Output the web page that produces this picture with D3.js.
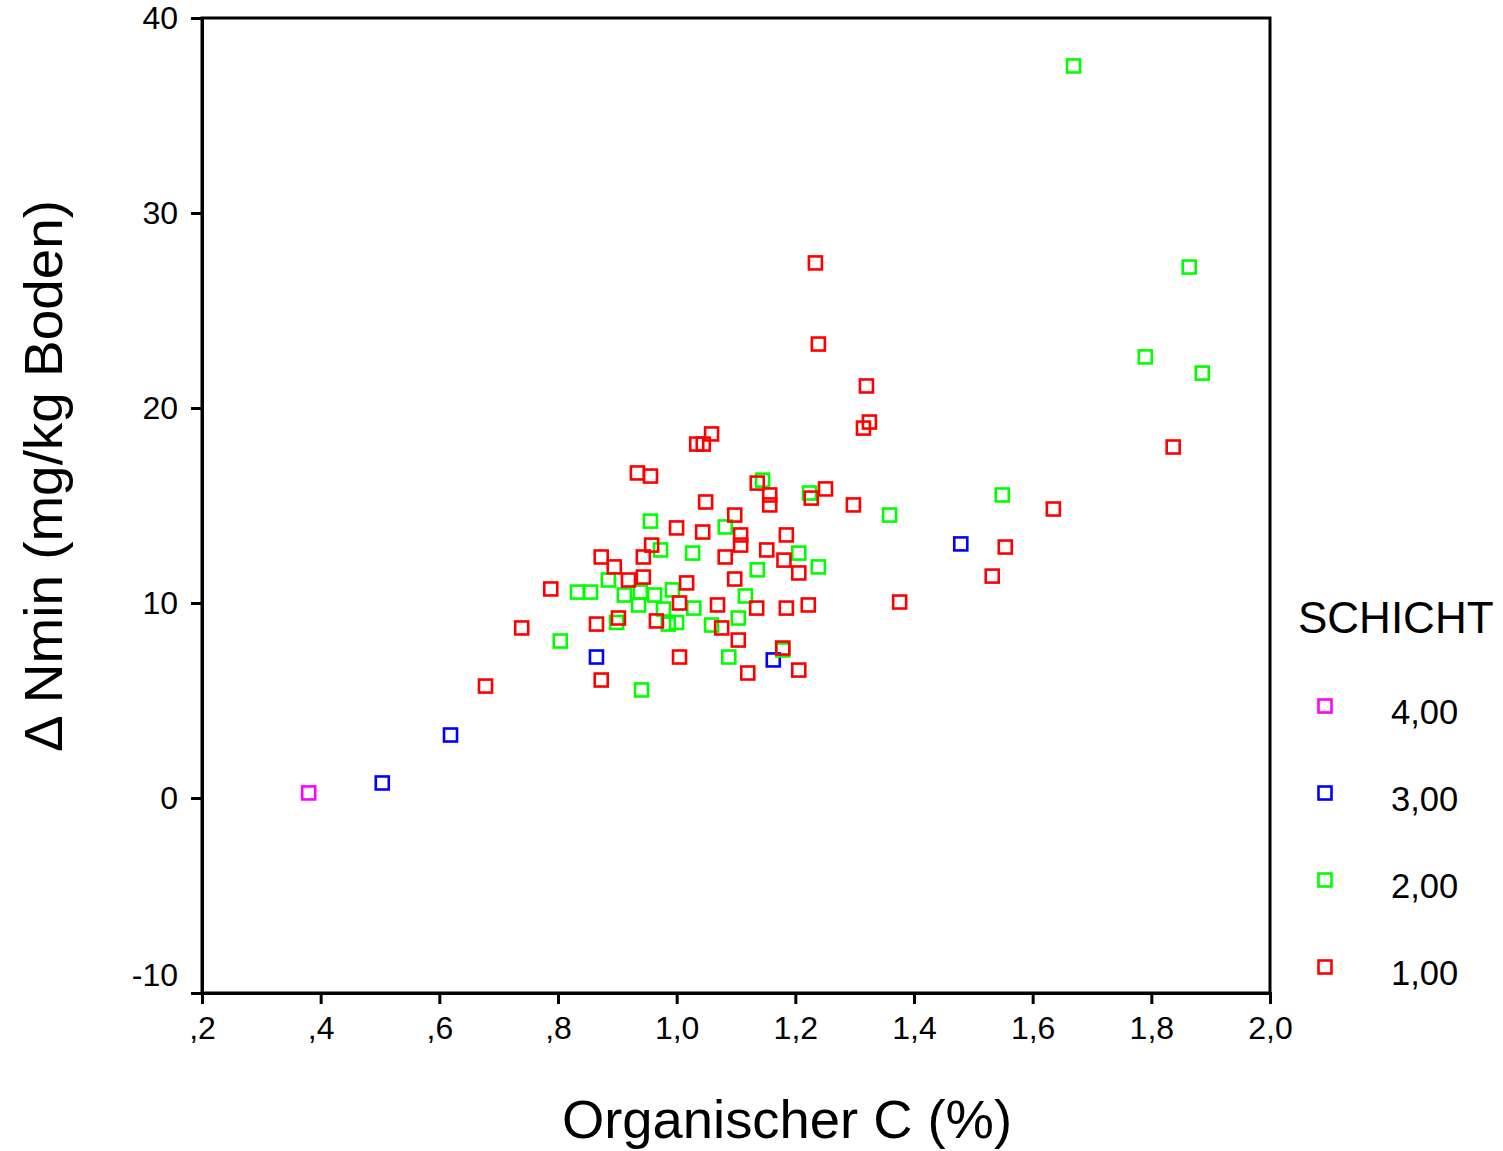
<!DOCTYPE html>
<html>
<head>
<meta charset="utf-8">
<script src="https://cdn.jsdelivr.net/npm/d3@7"></script>
<style>
  body { margin: 0; background: #fff; }
  text { font-family: "Liberation Sans", Arial, sans-serif; }
</style>
</head>
<body>
<div id="chart"></div>
<script>
// SCHICHT 4,00
const s4C = [0.379];
const s4N = [0.26];
// SCHICHT 3,00
const s3C = [0.503, 0.618, 0.864, 1.162, 1.478];
const s3N = [0.77, 3.23, 7.23, 7.08, 13.03];
// SCHICHT 2,00
const s2C = [1.668, 1.863, 1.789, 1.885, 1.548, 1.358, 1.223, 1.144, 0.955, 0.972,
  1.081, 1.026, 1.238, 1.205, 1.135, 0.832, 0.854, 0.884, 0.911, 0.935,
  0.938, 0.962, 0.992, 0.977, 0.985, 1.028, 0.999, 1.058, 1.115, 1.103,
  0.803, 0.898, 1.087, 0.94, 1.178];
const s2N = [37.54, 27.23, 22.62, 21.79, 15.54, 14.51, 15.64, 16.3, 14.2, 12.72,
  13.9, 12.56, 11.85, 12.56, 11.7, 10.56, 10.56, 11.18, 10.41, 9.9,
  10.56, 10.41, 10.67, 9.69, 8.92, 9.74, 9.0, 8.87, 10.36, 9.23,
  8.05, 9.0, 7.23, 5.54, 7.59];
// SCHICHT 1,00
const s1C = [1.233, 1.238, 1.319, 1.324, 1.314, 1.836, 1.058, 1.033, 1.044, 0.933,
  0.955, 1.135, 1.156, 1.156, 1.25, 1.226, 1.297, 1.048, 1.097, 1.634,
  0.999, 1.043, 1.107, 1.107, 1.184, 0.957, 1.553, 0.872, 0.943, 1.081,
  1.151, 1.18, 0.894, 0.918, 0.943, 1.016, 1.097, 1.205, 1.531, 0.787,
  1.375, 1.004, 1.068, 1.134, 1.184, 1.221, 0.901, 0.965, 0.864, 1.075,
  0.738, 1.103, 1.178, 1.004, 1.205, 1.119, 0.872, 0.677];
const s1N = [27.44, 23.28, 21.13, 19.28, 18.97, 18.0, 18.67, 18.15, 18.15, 16.67,
  16.51, 16.15, 15.54, 15.03, 15.85, 15.38, 15.03, 15.18, 14.51, 14.82,
  13.85, 13.64, 13.49, 12.97, 13.49, 12.97, 12.87, 12.36, 12.36, 12.36,
  12.72, 12.2, 11.85, 11.18, 11.33, 11.03, 11.23, 11.54, 11.38, 10.72,
  10.05, 10.0, 9.9, 9.74, 9.74, 9.9, 9.23, 9.08, 8.92, 8.72,
  8.72, 8.1, 7.69, 7.23, 6.56, 6.41, 6.05, 5.74];

const groups = ["4,00", "3,00", "2,00", "1,00"];
const groupColors = ["#ff00ff", "#0000ff", "#00ff00", "#ff0000"];
const xTicks = [0.2, 0.4, 0.6, 0.8, 1.0, 1.2, 1.4, 1.6, 1.8, 2.0];
const xTickLabels = [",2", ",4", ",6", ",8", "1,0", "1,2", "1,4", "1,6", "1,8", "2,0"];
const yTicks = [-10, 0, 10, 20, 30, 40];
const yTickLabels = ["-10", "0", "10", "20", "30", "40"];

const W = 1503, H = 1151;
const plot = { left: 202, right: 1270, top: 18, bottom: 993 };

const svg = d3.select("#chart").append("svg")
  .attr("width", W).attr("height", H);

const x = d3.scaleLinear().domain([0.2, 2.0]).range([plot.left, plot.right]);
const y = d3.scaleLinear().domain([-10, 40]).range([plot.bottom, plot.top]);

// frame
svg.append("rect")
  .attr("x", plot.left).attr("y", plot.top)
  .attr("width", plot.right - plot.left).attr("height", plot.bottom - plot.top)
  .attr("fill", "none").attr("stroke", "#000").attr("stroke-width", 3);

const xAxis = svg.append("g")
  .attr("transform", `translate(0, ${plot.bottom})`)
  .call(d3.axisBottom(x).tickValues(xTicks).tickSize(11).tickPadding(12)
    .tickFormat((d, i) => xTickLabels[i]));
const yAxis = svg.append("g")
  .attr("transform", `translate(${plot.left}, 0)`)
  .call(d3.axisLeft(y).tickValues(yTicks).tickSize(11).tickPadding(13)
    .tickFormat((d, i) => yTickLabels[i]));

[xAxis, yAxis].forEach(function (a) {
  a.select(".domain").attr("stroke-width", 3);
  a.selectAll(".tick line").attr("stroke-width", 3);
  a.selectAll(".tick text").attr("font-size", 32)
    .attr("font-family", "Liberation Sans, Arial, sans-serif").attr("fill", "#000");
});
// -10 label sits a bit above its tick
yAxis.selectAll(".tick text").filter((d) => d === -10).attr("dy", "-0.22em");

// points
const series = [[s4C, s4N], [s3C, s3N], [s2C, s2N], [s1C, s1N]];
const sq = 13;
series.forEach(function (s, gi) {
  const pts = s[0].map((c, i) => ({ c: c, n: s[1][i] }));
  svg.append("g").selectAll("rect")
    .data(pts)
    .join("rect")
    .attr("x", (d) => x(d.c) - sq / 2 + 0.5)
    .attr("y", (d) => y(d.n) - sq / 2)
    .attr("width", sq).attr("height", sq)
    .attr("fill", "none")
    .attr("stroke", groupColors[gi])
    .attr("stroke-width", 2.6);
});

// legend
svg.append("text")
  .attr("x", 1298).attr("y", 633)
  .attr("font-size", 44)
  .text("SCHICHT");
const legend = svg.append("g").selectAll("g")
  .data(groups)
  .join("g")
  .attr("transform", (d, i) => `translate(0, ${706 + i * 87})`);
legend.append("rect")
  .attr("x", 1325 - sq / 2).attr("y", -sq / 2)
  .attr("width", sq).attr("height", sq)
  .attr("fill", "none")
  .attr("stroke", (d, i) => groupColors[i])
  .attr("stroke-width", 2.6);
legend.append("text")
  .attr("x", 1391).attr("y", 18)
  .attr("font-size", 34.5)
  .text((d) => d);

// axis titles
svg.append("text")
  .attr("x", 787).attr("y", 1138)
  .attr("text-anchor", "middle")
  .attr("font-size", 54)
  .attr("font-family", "DejaVu Sans, sans-serif")
  .attr("textLength", 450).attr("lengthAdjust", "spacingAndGlyphs")
  .text("Organischer C (%)");
svg.append("text")
  .attr("transform", "translate(62, 476) rotate(-90)")
  .attr("text-anchor", "middle")
  .attr("font-size", 54)
  .attr("font-family", "DejaVu Sans, sans-serif")
  .attr("textLength", 552).attr("lengthAdjust", "spacingAndGlyphs")
  .text("\u0394 Nmin (mg/kg Boden)");
</script>
</body>
</html>
